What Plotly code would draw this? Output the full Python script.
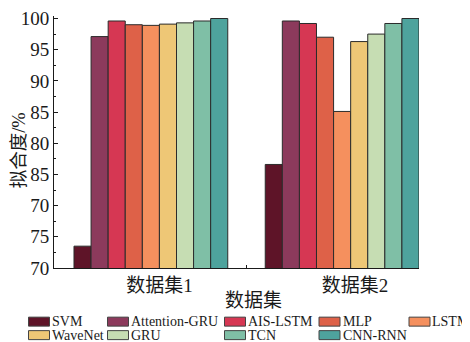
import plotly.graph_objects as go

# ---- data ----
groups = ["数据集1", "数据集2"]
models = ["SVM", "Attention-GRU", "AIS-LSTM", "MLP", "LSTM",
          "WaveNet", "GRU", "TCN", "CNN-RNN"]
colors = ["#5e1428", "#8c3a5c", "#d63753", "#de6148", "#f5905e",
          "#eec776", "#c6ddb3", "#7fbfa6", "#4ea39d"]
# values on the underlying (linear) axis
values_ds1 = [63.5, 97.1, 99.6, 99.0, 98.9, 99.1, 99.3, 99.6, 100.0]
values_ds2 = [76.6, 99.6, 99.2, 97.0, 85.1, 96.3, 97.5, 99.2, 100.0]
ytick_vals = [60, 65, 70, 75, 80, 85, 90, 95, 100]
ytick_text = ["70", "75", "70", "85", "80", "85", "90", "95", "100"]

# ---- layout constants ----
W, H = 470, 342
OFF = 8  # page body margin offset
# plot area in visible (reference) pixels
PX0, PX1, PY0, PY1 = 54, 419, 16, 268.3
L = PX0 - OFF
R = W - (PX1 - OFF)
T = PY0 - OFF
B = H - (PY1 - OFF)
pw, ph = W - L - R, H - T - B
FONT = "Liberation Serif, Times New Roman, Noto Sans CJK SC, serif"

def px2x(px):
    return (px - OFF - L) / pw

def px2y(py):
    return (H - B - (py - OFF)) / ph

fig = go.Figure()
xs = [0, 1]
for i, m in enumerate(models):
    fig.add_trace(go.Bar(
        x=xs, y=[values_ds1[i], values_ds2[i]], name=m,
        marker=dict(color=colors[i], line=dict(color="#2b2b2b", width=1)),
        showlegend=False,
    ))

fig.update_layout(
    width=W, height=H,
    margin=dict(l=L, r=R, t=T, b=B, pad=0, autoexpand=False),
    paper_bgcolor="white", plot_bgcolor="white",
    barmode="group", bargap=0.196, bargroupgap=0,
    font=dict(family=FONT, color="#1a1a1a", size=19),
    xaxis=dict(
        range=[-0.5065, 1.402], showgrid=False, zeroline=False,
        showline=True, linecolor="#1a1a1a", linewidth=1,
        tickvals=[0.045, 1.067], ticktext=groups, ticks="",
        tickfont=dict(size=19), automargin=False,
        minor=dict(tickvals=[0.5], ticks="inside", ticklen=3,
                   tickcolor="#1a1a1a", tickwidth=1),
    ),
    yaxis=dict(
        range=[60, 100.4], showgrid=False, zeroline=False,
        showline=True, linecolor="#1a1a1a", linewidth=1,
        tickvals=ytick_vals, ticktext=ytick_text,
        ticks="inside", ticklen=4, tickcolor="#1a1a1a", tickwidth=1,
        tickfont=dict(size=19), automargin=False,
        minor=dict(dtick=2.5, ticks="inside", ticklen=2,
                   tickcolor="#1a1a1a", tickwidth=1),
    ),
)

# axis titles
fig.add_annotation(text="拟合度/%", xref="paper", yref="paper",
                   x=px2x(18.5), y=px2y(151), showarrow=False, textangle=-90,
                   xanchor="center", yanchor="middle",
                   font=dict(size=18.5, family=FONT))
fig.add_annotation(text="数据集", xref="paper", yref="paper",
                   x=px2x(253), y=px2y(301), showarrow=False,
                   xanchor="center", yanchor="middle",
                   font=dict(size=19, family=FONT))

# manual legend (2 rows x 5 columns)
col_left = [28.5, 107.5, 224.5, 319, 409]
row_mid = [322, 335.5]
sw_w, sw_h = 21, 9
ncol = 5
for i, m in enumerate(models):
    r, c = divmod(i, ncol)
    x0 = col_left[c]
    yc = row_mid[r]
    fig.add_shape(type="rect", xref="paper", yref="paper",
                  x0=px2x(x0), x1=px2x(x0 + sw_w),
                  y0=px2y(yc + sw_h / 2), y1=px2y(yc - sw_h / 2),
                  fillcolor=colors[i], line=dict(color="#444444", width=1))
    fig.add_annotation(text=m, xref="paper", yref="paper",
                       x=px2x(x0 + sw_w + 1.5), y=px2y(yc),
                       showarrow=False, xanchor="left", yanchor="middle",
                       borderpad=0,
                       font=dict(size=14, family=FONT, color="#1a1a1a"))

fig.write_html("out.html")
